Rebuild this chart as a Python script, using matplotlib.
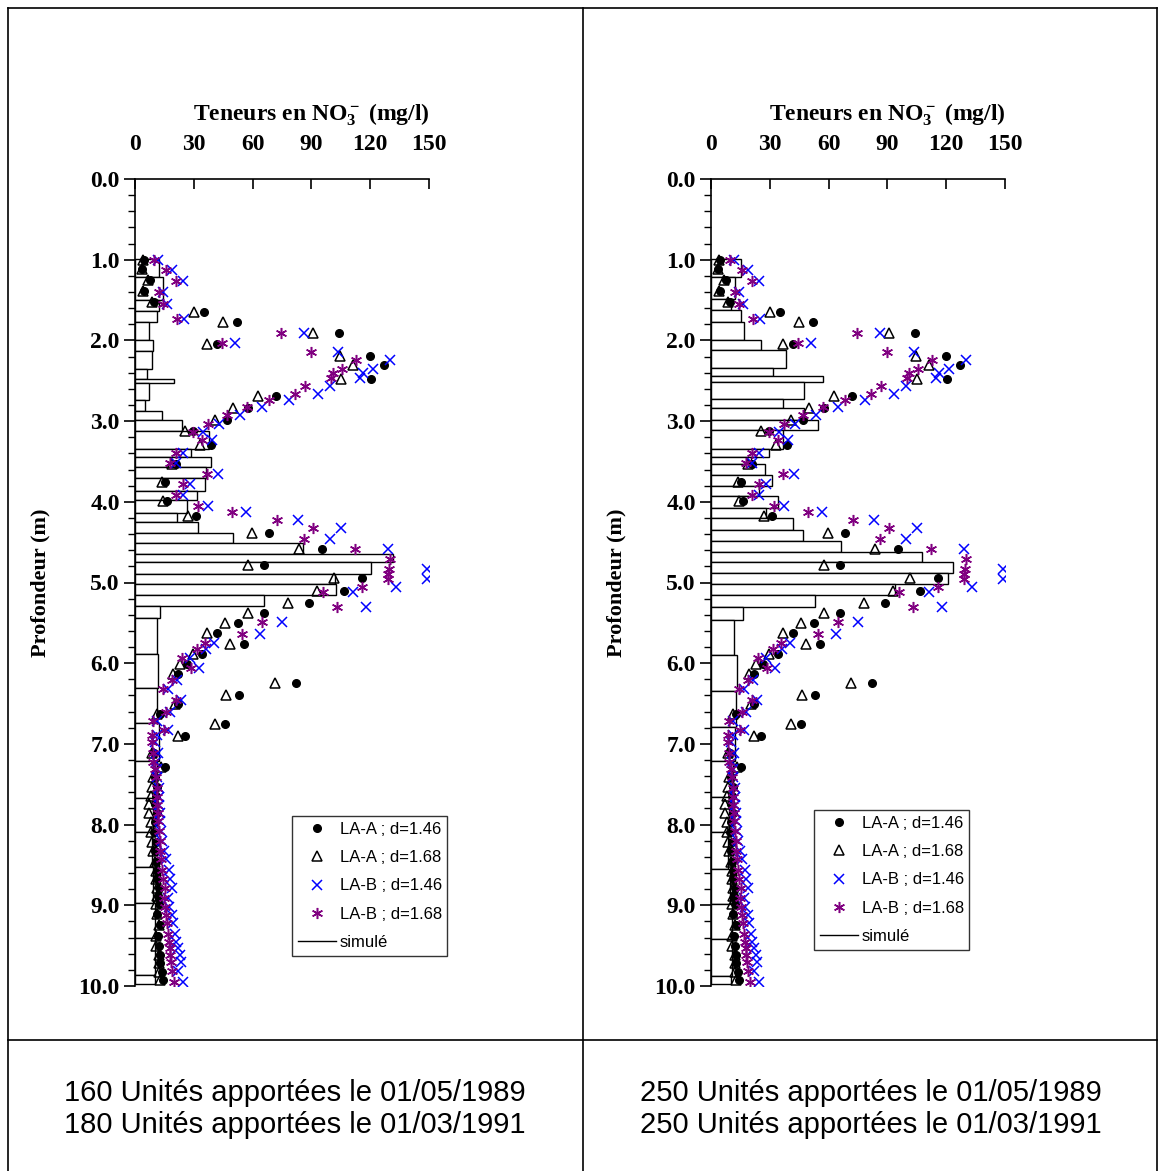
import numpy as np
import matplotlib
matplotlib.use('Agg')
import matplotlib.pyplot as plt
from matplotlib.lines import Line2D
from matplotlib.ticker import MultipleLocator, FormatStrFormatter


plt.rcParams['font.family'] = ['Liberation Serif', 'DejaVu Serif']
plt.rcParams['mathtext.fontset'] = 'custom'
plt.rcParams['mathtext.rm'] = 'Liberation Serif:bold'
plt.rcParams['mathtext.bf'] = 'Liberation Serif:bold'
plt.rcParams['mathtext.it'] = 'Liberation Serif:bold'

# Measured profiles (same in both panels)
depth_a = [1.00, 1.12, 1.25, 1.39, 1.53, 1.65, 1.77, 1.91, 2.05, 2.19,
           2.31, 2.48, 2.69, 2.84, 2.99, 3.12, 3.29, 3.53, 3.76, 3.99,
           4.18, 4.39, 4.58, 4.78, 4.94, 5.10, 5.25, 5.38, 5.50, 5.62,
           5.76, 5.89, 6.01, 6.13, 6.25, 6.39, 6.50, 6.63, 6.75, 6.90,
           7.11, 7.29, 7.41, 7.53, 7.64, 7.75, 7.86, 7.97, 8.09, 8.22,
           8.33, 8.46, 8.57, 8.68, 8.78, 8.88, 8.99, 9.11, 9.24, 9.38,
           9.50, 9.61, 9.72, 9.83, 9.93]
la_a_146 = [4.5, 3.7, 7.7, 4.7, 9.8, 35.0, 52.0, 104.0, 42.0, 119.7,
            127.0, 120.6, 72.0, 57.5, 46.8, 29.8, 38.8, 20.9, 15.3, 16.2,
            31.0, 68.4, 95.6, 65.6, 116.0, 106.8, 89.0, 65.6, 52.7, 41.8,
            55.4, 34.0, 26.4, 21.8, 82.0, 53.2, 21.8, 12.8, 46.0, 25.5,
            9.8, 15.3, 10.0, 11.0, 10.5, 10.0, 11.0, 10.0, 9.5, 10.5,
            10.0, 10.5, 11.0, 11.0, 12.0, 11.5, 12.0, 11.0, 12.5, 11.5,
            12.0, 12.5, 13.0, 14.0, 14.5]
la_a_168 = [4.0, 3.7, 6.5, 4.2, 8.8, 30.0, 45.0, 91.0, 36.6, 104.6,
            111.0, 105.0, 63.0, 50.0, 40.8, 25.5, 33.0, 18.7, 13.6, 14.5,
            27.0, 59.5, 83.7, 57.5, 101.7, 93.0, 78.0, 57.5, 46.0, 36.6,
            48.6, 29.8, 23.0, 19.6, 71.6, 46.6, 20.4, 11.4, 40.8, 22.0,
            8.5, 13.3, 9.0, 8.5, 8.0, 7.0, 7.0, 8.0, 8.0, 8.8,
            9.4, 10.0, 10.5, 10.5, 11.0, 11.0, 10.5, 11.0, 12.0, 10.5,
            10.5, 12.0, 12.0, 12.0, 12.5]

depth_b = [1.00, 1.13, 1.26, 1.40, 1.55, 1.73, 1.91, 2.03, 2.14, 2.24,
           2.35, 2.41, 2.47, 2.56, 2.66, 2.74, 2.83, 2.93, 3.03, 3.14,
           3.24, 3.39, 3.52, 3.66, 3.78, 3.92, 4.05, 4.13, 4.23, 4.33,
           4.46, 4.59, 4.71, 4.83, 4.89, 4.96, 5.05, 5.12, 5.30, 5.49,
           5.64, 5.75, 5.83, 5.94, 6.06, 6.21, 6.32, 6.46, 6.60, 6.72,
           6.83, 6.89, 6.98, 7.11, 7.22, 7.31, 7.41, 7.55, 7.66, 7.76,
           7.86, 7.96, 8.08, 8.20, 8.33, 8.43, 8.56, 8.67, 8.79, 8.91,
           9.02, 9.12, 9.22, 9.35, 9.45, 9.53, 9.61, 9.70, 9.82, 9.95]
la_b_146 = [11.9, 18.7, 24.7, 14.5, 16.2, 25.0, 86.0, 51.0, 103.7, 130.0,
            121.6, 116.5, 114.8, 99.5, 93.5, 78.6, 65.0, 53.6, 42.9, 34.9,
            39.5, 24.7, 20.7, 42.2, 28.0, 24.7, 37.4, 56.6, 83.0, 105.0,
            99.5, 129.2, np.nan, 148.8, np.nan, 148.8, 133.0, 111.0, 118.0, 75.0,
            63.8, 40.5, 36.0, 28.0, 32.7, 21.3, 16.7, 23.5, 17.9, 11.0,
            16.7, 11.0, 10.2, 11.5, 10.6, 11.0, 11.0, 12.0, 12.0, 12.0,
            12.5, 12.5, 13.5, 14.0, 15.0, 16.0, 17.5, 18.0, 18.7, 17.0,
            17.5, 19.0, 19.5, 20.5, 21.0, 22.0, 23.0, 23.6, 22.0, 24.7]
la_b_168 = [9.8, 15.6, 20.7, 12.2, 14.1, 21.3, 74.3, 44.2, 90.0, 112.8,
            105.8, 101.2, 100.0, 86.7, 81.6, 68.5, 57.0, 46.8, 37.0, 29.8,
            34.4, 20.7, 17.9, 36.6, 24.7, 20.7, 32.0, 49.3, 72.3, 91.0,
            86.0, 112.2, 130.0, 129.6, 129.2, 129.2, 115.6, 96.0, 103.0, 65.0,
            54.8, 35.7, 31.5, 23.8, 28.6, 18.7, 14.5, 20.7, 15.6, 9.4,
            15.0, 8.8, 8.8, 9.4, 9.4, 10.0, 10.5, 11.0, 11.0, 11.0,
            11.5, 11.5, 12.0, 12.5, 13.0, 13.5, 14.0, 14.5, 15.5, 15.0,
            15.5, 16.0, 16.5, 17.0, 17.5, 18.0, 18.0, 18.5, 19.0, 20.0]

# Simulated profiles: layer boundaries (m) and NO3 content (mg/l)
sim1_edges = [0.99, 1.21, 1.50, 1.63, 1.77, 1.99, 2.13, 2.36, 2.48, 2.53,
              2.74, 2.87, 2.99, 3.12, 3.35, 3.44, 3.57, 3.70, 3.86, 3.98,
              4.14, 4.25, 4.39, 4.51, 4.65, 4.75, 4.89, 5.02, 5.16, 5.29,
              5.44, 5.88, 6.31, 6.74, 7.21, 7.67, 8.09, 8.53, 8.97, 9.41,
              9.86, 9.98]
sim1_vals = [12.4, 14.5, 12.0, 11.0, 7.3, 9.4, 8.5, 6.0, 20.0, 7.3,
             5.1, 13.6, 23.8, 37.9, 28.6, 38.8, 36.0, 35.8, 31.5, 26.5,
             21.6, 32.3, 50.2, 85.5, 131.6, 120.2, 102.0, 102.4, 66.0, 12.8,
             11.0, 11.5, 11.0, 12.4, 11.4, 9.4, 8.5, 9.0, 10.2, 10.2,
             10.2]
sim2_edges = [0.99, 1.21, 1.49, 1.62, 1.77, 2.00, 2.12, 2.34, 2.44, 2.51,
              2.72, 2.84, 2.99, 3.11, 3.34, 3.44, 3.53, 3.67, 3.81, 3.93,
              4.08, 4.20, 4.35, 4.49, 4.62, 4.74, 4.88, 5.02, 5.16, 5.30,
              5.46, 5.90, 6.35, 6.79, 7.21, 7.66, 8.09, 8.55, 8.99, 9.42,
              9.87, 9.98]
sim2_vals = [15.2, 12.4, 10.0, 15.2, 17.0, 25.4, 38.5, 31.8, 56.9, 47.6,
             36.9, 47.6, 54.6, 36.9, 29.8, 20.5, 27.6, 31.3, 24.7, 34.0,
             28.2, 42.0, 46.8, 66.2, 107.5, 123.3, 121.0, 93.9, 53.0, 16.2,
             11.5, 13.4, 12.8, 12.2, 11.0, 9.0, 8.5, 9.5, 10.5, 10.5,
             10.0]

captions = ["160 Unités apportées le 01/05/1989\n180 Unités apportées le 01/03/1991",
            "250 Unités apportées le 01/05/1989\n250 Unités apportées le 01/03/1991"]

W, H = 1159, 1171


def px_box(x0, y0, x1, y1):
    """Convert a pixel box (top-left origin) to figure fraction [l, b, w, h]."""
    return [x0 / W, 1 - y1 / H, (x1 - x0) / W, (y1 - y0) / H]


def draw_panel(ax, edges, vals, legend_box):
    edges = np.array(edges)
    ax.barh(edges[:-1], vals, height=np.diff(edges), align='edge',
            color='white', edgecolor='black', linewidth=1.0, zorder=1)
    ax.plot(la_a_146, depth_a, ls='none', marker='o', ms=5.5, color='black',
            label='LA-A ; d=1.46', zorder=3)
    ax.plot(la_a_168, depth_a, ls='none', marker='^', ms=6.5, mfc='none',
            mec='black', mew=1.1, label='LA-A ; d=1.68', zorder=3)
    ax.plot(la_b_146, depth_b, ls='none', marker='x', ms=7.5, color='blue',
            mew=1.1, label='LA-B ; d=1.46', zorder=3)
    ax.plot(la_b_168, depth_b, ls='none', marker=(6, 2, 0), ms=8, color='#800080',
            mew=1.1, label='LA-B ; d=1.68', zorder=3)
    handles, labels = ax.get_legend_handles_labels()
    handles.append(Line2D([], [], color='black', lw=1))
    labels.append('simulé')

    ax.set_xlim(0, 150)
    ax.set_ylim(10, 0)
    ax.xaxis.tick_top()
    ax.xaxis.set_label_position('top')
    ax.set_xticks([0, 30, 60, 90, 120, 150])
    ax.yaxis.set_major_locator(MultipleLocator(1.0))
    ax.yaxis.set_minor_locator(MultipleLocator(0.2))
    ax.yaxis.set_major_formatter(FormatStrFormatter('%.1f'))
    for s in ['right', 'bottom']:
        ax.spines[s].set_visible(False)
    for s in ['left', 'top']:
        ax.spines[s].set_linewidth(1.2)
    ax.tick_params(axis='x', direction='in', length=7, width=1.2, labelsize=17, pad=17)
    ax.tick_params(axis='y', which='major', direction='out', length=8, width=1.2,
                   labelsize=17, pad=3)
    ax.tick_params(axis='y', which='minor', direction='out', length=5, width=1.0)
    for t in ax.get_xticklabels() + ax.get_yticklabels():
        t.set_fontweight('bold')
    ax.set_xlabel(r'Teneurs en NO$_3^-$ (mg/l)', fontsize=17, fontweight='bold')
    ax.xaxis.set_label_coords(0.60, 1.072)
    ax.set_ylabel('Profondeur (m)', fontsize=16, fontweight='bold', labelpad=20)

    leg = ax.legend(handles, labels, loc='lower left', bbox_to_anchor=legend_box,
                    bbox_transform=ax.figure.transFigure, mode='expand',
                    prop={'family': 'Liberation Sans', 'size': 12},
                    frameon=True, fancybox=False, edgecolor='black',
                    borderpad=0.35, labelspacing=0.8, handlelength=2.3,
                    handletextpad=0.2, borderaxespad=0)
    leg.get_frame().set_linewidth(1.0)
    leg.set_zorder(5)


fig = plt.figure(figsize=(W / 100, H / 100), dpi=100)

ax1 = fig.add_axes(px_box(135, 179, 429, 986))
draw_panel(ax1, sim1_edges, sim1_vals, px_box(292, 815, 447, 956))
ax2 = fig.add_axes(px_box(711, 179, 1005, 986))
draw_panel(ax2, sim2_edges, sim2_vals, px_box(814, 810, 969, 950))

# table frame
for (x0, y0, x1, y1) in [(8, 8, 1157, 8), (8, 8, 8, H), (1157, 8, 1157, H),
                         (583, 8, 583, H), (8, 1040, 1157, 1040)]:
    fig.add_artist(Line2D([x0 / W, x1 / W], [1 - y0 / H, 1 - y1 / H],
                          transform=fig.transFigure, color='black', lw=1.2))

fig.text(295 / W, 1 - 1109 / H, captions[0], ha='center', va='center',
         fontsize=21, family='Liberation Sans', linespacing=1.2)
fig.text(871 / W, 1 - 1109 / H, captions[1], ha='center', va='center',
         fontsize=21, family='Liberation Sans', linespacing=1.2)

fig.savefig('out.png', dpi=100)
